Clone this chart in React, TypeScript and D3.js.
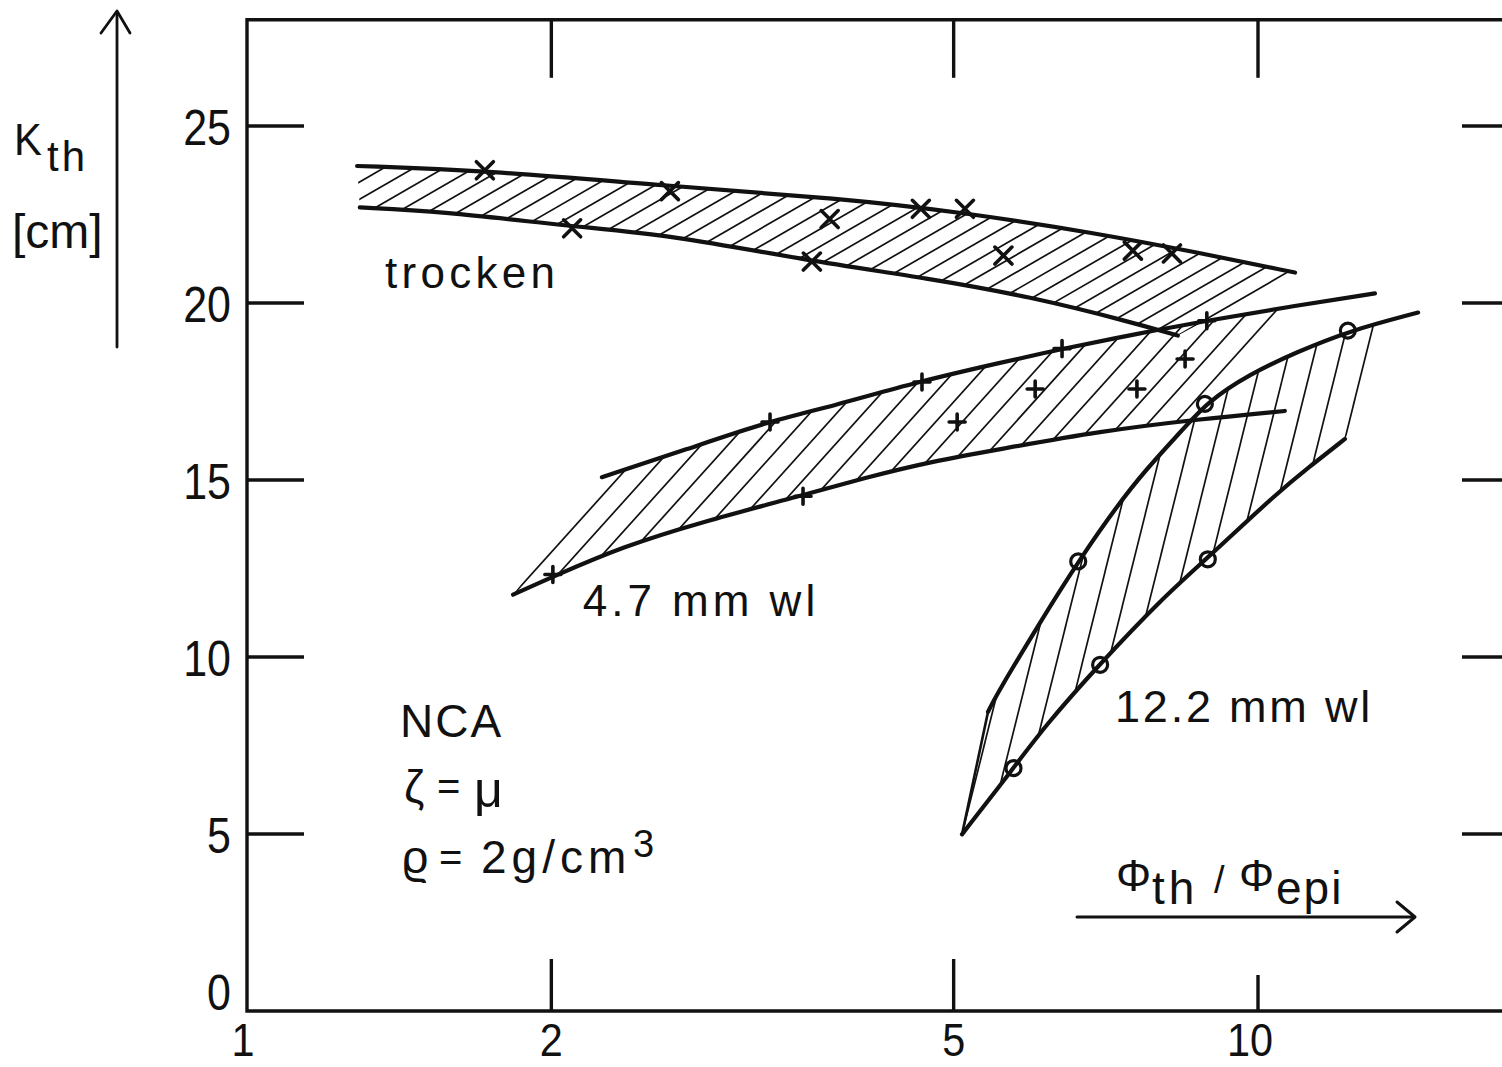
import React from 'react';
import * as d3 from 'd3';

type Pt = [number, number];

// Axis ticks: flux ratio Φth/Φepi (log) and diffusion length K_th in cm
const xTickValues = [1, 2, 5, 10];
const xTickLabels = ['1', '2', '5', '10'];
const yTickValues = [0, 5, 10, 15, 20, 25];
const yTickLabels = ['0', '5', '10', '15', '20', '25'];

// "trocken" (dry) band: boundary curves and measured points
const dryUpper: Pt[] = [[1.285, 23.87], [1.712, 23.75], [2.62, 23.3], [3.859, 22.96], [5.108, 22.56], [6.93, 21.97], [8.7, 21.43], [10.88, 20.86]];
const dryLower: Pt[] = [[1.293, 22.7], [1.552, 22.59], [2.101, 22.16], [2.638, 21.91], [3.58, 21.2], [4.74, 20.69], [5.95, 20.18], [7.47, 19.47], [8.33, 19.08]];
const dryPoints: Pt[] = [[1.719, 23.75], [2.097, 22.11], [2.62, 23.16], [3.62, 21.17], [3.77, 22.37], [4.64, 22.66], [5.13, 22.66], [5.6, 21.34], [7.52, 21.48], [8.22, 21.4]];

// 4.7 mm water layer band
const wl47Upper: Pt[] = [[2.244, 15.08], [2.724, 15.87], [3.268, 16.64], [3.798, 17.09], [4.6, 17.77], [5.556, 18.31], [6.415, 18.71], [7.59, 19.13], [8.9, 19.5], [10.76, 19.9], [13.05, 20.27]];
const wl47Lower: Pt[] = [[1.833, 11.76], [2.007, 12.27], [2.354, 13.12], [2.806, 13.8], [3.548, 14.57], [4.105, 15.08], [4.77, 15.53], [5.556, 15.87], [6.98, 16.38], [8.76, 16.72], [10.63, 16.95]];
const wl47Points: Pt[] = [[2.007, 12.33], [3.291, 16.64], [3.548, 14.54], [4.652, 17.77], [5.04, 16.64], [6.02, 17.57], [6.4, 18.71], [7.59, 17.57], [8.47, 18.42], [8.9, 19.5]];

// 12.2 mm water layer band
const wl122Upper: Pt[] = [[5.407, 8.45], [5.518, 8.96], [6.085, 10.97], [6.637, 12.7], [7.521, 14.91], [8.318, 16.24], [8.903, 17.21], [9.82, 18.0], [10.93, 18.62], [12.33, 19.22], [14.4, 19.73]];
const wl122Lower: Pt[] = [[5.096, 4.99], [5.73, 6.86], [6.155, 8.05], [6.945, 9.75], [8.054, 11.68], [8.903, 12.78], [10.44, 14.63], [11.26, 15.39], [12.19, 16.16]];
const wl122Points: Pt[] = [[5.73, 6.86], [6.64, 12.7], [6.98, 9.78], [8.86, 17.15], [8.92, 12.76], [12.27, 19.22]];

const W = 1502;
const H = 1067;
const FONT = "'Liberation Sans', 'DejaVu Sans', Arial, sans-serif";
const INK = '#111';

const x = d3.scaleLog().domain([1, 10]).range([247, 1258]);
const y = d3.scaleLinear().domain([0, 25]).range([1011, 126]);

const plotLeft = x(1);
const plotBottom = y(0);
const plotTop = y(28);
const plotRight = W + 20;

const curve = d3
  .line<Pt>()
  .x((d) => x(d[0]))
  .y((d) => y(d[1]))
  .curve(d3.curveBasis);

function bandOutline(upper: Pt[], lower: Pt[]): string {
  const up = curve(upper) as string;
  const low = (curve([...lower].reverse()) as string).replace(/^M/, 'L');
  return `${up}${low}Z`;
}

interface BandProps {
  id: string;
  upper: Pt[];
  lower: Pt[];
  angle: number; // hatch direction, degrees above horizontal
  spacing: number; // nominal perpendicular hatch spacing, px
  from: Pt; // first hatch line passes through this point
  to: Pt; // last hatch line passes through this point
  closeStart?: boolean;
}

function Band({ id, upper, lower, angle, spacing, from, to, closeStart }: BandProps) {
  const t = (angle * Math.PI) / 180;
  const dir = [Math.cos(t), -Math.sin(t)];
  const nrm = [Math.sin(t), Math.cos(t)];
  const proj = (p: Pt) => x(p[0]) * nrm[0] + y(p[1]) * nrm[1];
  const c0 = proj(from);
  const c1 = proj(to);
  const n = Math.max(1, Math.round((c1 - c0) / spacing));
  const hatches: number[] = d3.range(n + 1).map((i) => c0 + ((c1 - c0) * i) / n);
  const L = 3000;
  return (
    <g>
      <defs>
        <clipPath id={id}>
          <path d={bandOutline(upper, lower)} />
        </clipPath>
      </defs>
      <g clipPath={`url(#${id})`}>
        {hatches.map((c, i) => (
          <line
            key={i}
            x1={c * nrm[0] - L * dir[0]}
            y1={c * nrm[1] - L * dir[1]}
            x2={c * nrm[0] + L * dir[0]}
            y2={c * nrm[1] + L * dir[1]}
            stroke={INK}
            strokeWidth={1.7}
          />
        ))}
      </g>
      <path d={curve(upper) as string} fill="none" stroke={INK} strokeWidth={4.2} strokeLinecap="round" />
      <path d={curve(lower) as string} fill="none" stroke={INK} strokeWidth={4.2} strokeLinecap="round" />
      {closeStart && (
        <line
          x1={x(lower[0][0])}
          y1={y(lower[0][1])}
          x2={x(upper[0][0])}
          y2={y(upper[0][1])}
          stroke={INK}
          strokeWidth={2.6}
          strokeLinecap="round"
        />
      )}
    </g>
  );
}

function Marks({ pts, kind }: { pts: Pt[]; kind: 'x' | '+' | 'o' }) {
  return (
    <g stroke={INK} fill="none" strokeLinecap="round">
      {pts.map((p, i) => {
        const cx = x(p[0]);
        const cy = y(p[1]);
        if (kind === 'o') return <circle key={i} cx={cx} cy={cy} r={7.5} strokeWidth={3.2} />;
        const r = kind === 'x' ? 8.5 : 8;
        const d =
          kind === 'x'
            ? `M${cx - r},${cy - r}L${cx + r},${cy + r}M${cx - r},${cy + r}L${cx + r},${cy - r}`
            : `M${cx - r},${cy}L${cx + r},${cy}M${cx},${cy - r}L${cx},${cy + r}`;
        return <path key={i} d={d} strokeWidth={3.6} />;
      })}
    </g>
  );
}

function Txt({
  x: tx,
  y: ty,
  size,
  sx = 1,
  ls = 0,
  anchor = 'start',
  children,
}: {
  x: number;
  y: number;
  size: number;
  sx?: number;
  ls?: number;
  anchor?: 'start' | 'middle' | 'end';
  children: React.ReactNode;
}) {
  return (
    <text
      transform={`translate(${tx},${ty}) scale(${sx},1)`}
      fontSize={size}
      letterSpacing={ls}
      textAnchor={anchor}
      fontFamily={FONT}
      fill={INK}
    >
      {children}
    </text>
  );
}

export default function App() {
  const axisW = 3.4;
  return (
    <svg
      width={W}
      height={H}
      viewBox={`0 0 ${W} ${H}`}
      style={{ position: 'absolute', left: 0, top: 0, background: '#fff' }}
    >
      <rect width={W} height={H} fill="#fff" />

      {/* frame */}
      <path
        d={`M${plotRight},${plotTop}L${plotLeft},${plotTop}L${plotLeft},${plotBottom}L${plotRight},${plotBottom}`}
        fill="none"
        stroke={INK}
        strokeWidth={axisW}
      />

      {/* y ticks, left and right */}
      {yTickValues
        .filter((v) => v > 0)
        .map((v) => (
          <g key={v} stroke={INK} strokeWidth={axisW}>
            <line x1={plotLeft} x2={plotLeft + 57} y1={y(v)} y2={y(v)} />
            <line x1={1462} x2={W} y1={y(v)} y2={y(v)} />
          </g>
        ))}
      {yTickValues.map((v, i) => (
        <Txt key={v} x={231} y={y(v) + (v === 0 ? -1 : 19)} size={50} sx={0.86} anchor="end">
          {yTickLabels[i]}
        </Txt>
      ))}

      {/* x ticks, bottom and top */}
      {xTickValues
        .filter((v) => v > 1)
        .map((v) => (
          <g key={v} stroke={INK} strokeWidth={axisW}>
            <line x1={x(v)} x2={x(v)} y1={plotBottom} y2={plotBottom - (v === 10 ? 36 : 52)} />
            <line x1={x(v)} x2={x(v)} y1={plotTop} y2={plotTop + 58} />
          </g>
        ))}
      {xTickValues.map((v, i) => (
        <Txt key={v} x={x(v) - (v === 1 ? 4 : v === 10 ? 8 : 0)} y={1056} size={46} sx={0.9} anchor="middle">
          {xTickLabels[i]}
        </Txt>
      ))}

      {/* y-axis title with arrow */}
      <g stroke={INK} strokeWidth={2.8} fill="none" strokeLinecap="round" strokeLinejoin="round">
        <line x1={117} x2={117} y1={347} y2={12} />
        <path d="M101,33L117,11L130,33" />
      </g>
      <Txt x={14} y={155} size={44} sx={0.95}>K</Txt>
      <Txt x={47} y={171} size={42} ls={3}>th</Txt>
      <Txt x={12} y={248} size={48}>[cm]</Txt>

      {/* bands */}
      <Band
        id="hatch-dry"
        upper={dryUpper}
        lower={dryLower}
        angle={30}
        spacing={15}
        from={dryUpper[0]}
        to={dryLower[dryLower.length - 1]}
      />
      <Band
        id="hatch-47"
        upper={wl47Upper}
        lower={wl47Lower}
        angle={48}
        spacing={20}
        from={wl47Lower[0]}
        to={[10.51, 19.9]}
      />
      <Band
        id="hatch-122"
        upper={wl122Upper}
        lower={wl122Lower}
        angle={76}
        spacing={25}
        from={wl122Lower[0]}
        to={wl122Lower[wl122Lower.length - 1]}
        closeStart
      />

      <Marks pts={dryPoints} kind="x" />
      <Marks pts={wl47Points} kind="+" />
      <Marks pts={wl122Points} kind="o" />

      {/* band labels */}
      <Txt x={x(1.369)} y={y(20.41)} size={44} ls={4.3}>trocken</Txt>
      <Txt x={x(2.148)} y={y(11.17)} size={44} ls={4}>4.7 mm wl</Txt>
      <Txt x={x(7.22)} y={y(8.16)} size={45} ls={2.8}>12.2 mm wl</Txt>

      {/* material block */}
      <Txt x={400} y={737} size={46} ls={2}>NCA</Txt>
      <text fontFamily={FONT} fill={INK} fontSize={46}>
        <tspan x={404} y={803}>ζ</tspan>
        <tspan x={437} y={800} fontSize={40}>=</tspan>
        <tspan x={474} y={807} fontSize={50}>μ</tspan>
      </text>
      <text fontFamily={FONT} fill={INK} fontSize={46}>
        <tspan x={402} y={873}>ϱ</tspan>
        <tspan x={439} y={871} fontSize={40}>=</tspan>
        <tspan x={481} y={873} letterSpacing={5}>2g/cm</tspan>
        <tspan x={633} y={857} fontSize={38}>3</tspan>
      </text>

      {/* x-axis title with arrow */}
      <text fontFamily={FONT} fill={INK} fontSize={44}>
        <tspan x={1116} y={891}>Φ</tspan>
        <tspan x={1152} y={904} fontSize={46} letterSpacing={4}>th</tspan>
        <tspan x={1214} y={893} fontSize={38}>/</tspan>
        <tspan x={1239} y={891}>Φ</tspan>
        <tspan x={1276} y={904} fontSize={46} letterSpacing={2}>epi</tspan>
      </text>
      <g stroke={INK} strokeWidth={3} fill="none" strokeLinecap="round" strokeLinejoin="round">
        <line x1={1077} x2={1414} y1={917} y2={917} />
        <path d="M1397,902L1415,917L1397,932" />
      </g>
    </svg>
  );
}
